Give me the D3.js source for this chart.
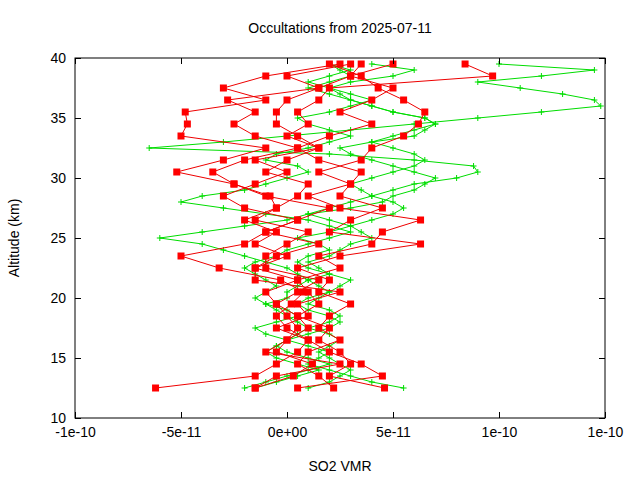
<!DOCTYPE html><html><head><meta charset="utf-8">
<script src="https://cdn.jsdelivr.net/npm/d3@7"></script>
<style>body{margin:0;background:#fff}svg{font-family:"Liberation Sans",Arial,sans-serif;font-size:14px}</style>
</head><body><svg id="c" width="640" height="480"></svg><script>
const title="Occultations from 2025-07-11";
const xLabel="SO2 VMR", yLabel="Altitude (km)";
const xTicks=[-1e-10,-5e-11,0,5e-11,1e-10,1.5e-10];
const xTickLabels=["-1e-10","-5e-11","0e+00","5e-11","1e-10","1e-10"];
const yTicks=[10,15,20,25,30,35,40];
// red profiles: altitude 12.5..39.5 step 1, values in 1e-11
const redStart=12.5, redStep=1;
const red1=[-6.2,-1.5,-0.5,0.5,1,0,-0.5,0.2,0.8,-0.3,-3.2,-5,-2,-1,0.5,2,-1,-2.5,-5.2,-3,-1,-5,-4.7,-4.8,-1,-3,-1,2.5];
const red2=[-1.5,0.3,1.2,-0.5,0,1,0.5,-0.5,0.5,1.5,-1,-1,0,1,-1.5,-0.5,-0.8,-2.5,-3.5,-2,0.5,-1.5,-2.5,-1.5,-2.8,1.5,3,3.5];
const red3=[4.6,2,3,2.5,1.5,2,0.5,1.5,1,0.5,2.5,1.5,4,4.5,6.3,2.5,1,3,3.5,1.5,0.5,2,4,2.5,4,5,3,5];
const red4=[0.5,4.5,3.5,2,1,-0.5,1,0.5,2.5,-1.5,-1.5,-0.5,1.5,-1,0.5,-2,-3,-1.5,0,-1.5,1.5,0,1,0.5,1.5,2,9.7,8.4];
const red5=[2.2,1.5,0.5,1,2.5,1.5,2,3,1.5,2,0.5,2.5,6.3,2,3,4.5,2.5,3,1.5,3.5,4,5.5,6.2,6.5,5.5,4.3,3.5,2];
const red6=[-1.5,-0.5,2.5,-1,0,0.5,0,-0.5,-1,0.5,-1.5,0,-1.5,-0.5,-2,-0.5,0.5,1,-1,0,1.5,0.5,-0.5,-0.5,0,1.5,0,3];
const redSeries=[red1,red2,red3,red4,red5,red6];
// green profiles: altitude 12.5..39.5 step 0.5
const greenStart=12.5, greenStep=0.5;
const green1=[-2,-1,0,1,2,1,0,-0.5,0,0.5,1,0.5,0,-0.5,-1,0,0,0.5,1,0.5,0,-1,-2,-3,-4,-6,-4,-2,0,1,2,3,4,5,6,8,9,8.8,6,2,-6.5,-3,0,3,6,9,12,14.8,14.5,13,11,9,12,14.5,10];
const green2=[5.5,4,3,2,1,1.5,2,1,0,1,2,2.5,2,1,0.5,1,2,1.5,1,2,1,0.5,1,2,1.5,0.5,2,3,2,1,3,4.5,5,6,6.5,7,6,5,4,3,2.5,4,6,6.5,7,6.5,5,4,3,2.5,2,3,5,6,4];
const green3=[-1.5,-0.5,0.5,1.5,0.5,-0.5,-1,-0.5,0,-1,-1.5,-0.5,0.5,0,-1,-1.5,-1,-0.5,-1,-1.5,-2,-1.5,-0.5,0,1,2,3,2,1,-1,-3,-5,-4,-2,-1,0,1,0.5,-1,-0.5,1,2,3,2,1,0.5,2,3,4,3,2,1,2,3,2];
const green4=[1,2,2.5,3,2.5,2,1.5,2,2.5,2,1,2,2.5,2,1,1.5,2,2.5,3,2,1.5,1,2,2.5,3,4,3.5,3,4,5,5.5,5,4,3.5,3,4,5,6,6.5,6,5,4,5,6,7,6.5,5,4,3,2,1,2,3,2.5,2];
const greenSeries=[green1,green2,green3,green4];

const svg=d3.select("#c");
const m={l:75,r:35,t:58,b:62};
const W=640,H=480;
const x=d3.scaleLinear().domain([-1e-10,1.5e-10]).range([m.l,W-m.r]);
const y=d3.scaleLinear().domain([10,40]).range([H-m.b,m.t]);
const g=svg.append("g");
// series
const line=d3.line().x(d=>x(d.v)).y(d=>y(d.a));
function pts(arr,s0,st){return arr.map((v,i)=>({v:v*1e-11,a:s0+i*st}));}
greenSeries.forEach(s=>{
  const p=pts(s,greenStart,greenStep);
  g.append("path").attr("d",line(p)).attr("fill","none").attr("stroke","#00dd00").attr("stroke-width",1);
  g.selectAll(null).data(p).enter().append("path")
   .attr("d",d=>`M${x(d.v)-3},${y(d.a)}h6M${x(d.v)},${y(d.a)-3}v6`).attr("stroke","#00dd00");
});
redSeries.forEach(s=>{
  const p=pts(s,redStart,redStep);
  g.append("path").attr("d",line(p)).attr("fill","none").attr("stroke","#ee0000").attr("stroke-width",1);
  g.selectAll(null).data(p).enter().append("rect")
   .attr("x",d=>x(d.v)-3.5).attr("y",d=>y(d.a)-3.5).attr("width",7).attr("height",7).attr("fill","#ff0000");
});
// frame and ticks
svg.append("rect").attr("x",m.l).attr("y",m.t).attr("width",W-m.l-m.r).attr("height",H-m.t-m.b).attr("fill","none").attr("stroke","#000");
const xb=svg.append("g").attr("transform",`translate(0,${H-m.b})`).call(d3.axisBottom(x).tickValues(xTicks).tickSize(-6).tickFormat((d,i)=>xTickLabels[i]).tickPadding(9));
const xt=svg.append("g").attr("transform",`translate(0,${m.t})`).call(d3.axisTop(x).tickValues(xTicks).tickSize(-6).tickFormat(""));
const yl=svg.append("g").attr("transform",`translate(${m.l},0)`).call(d3.axisLeft(y).tickValues(yTicks).tickSize(-6).tickPadding(9));
const yr=svg.append("g").attr("transform",`translate(${W-m.r},0)`).call(d3.axisRight(y).tickValues(yTicks).tickSize(-6).tickFormat(""));
[xb,xt,yl,yr].forEach(a=>{a.select(".domain").remove();a.selectAll("text").attr("font-size",14).attr("font-family","Liberation Sans, Arial, sans-serif").attr("fill","#000");});
svg.append("text").attr("x",340).attr("y",33).attr("text-anchor","middle").text(title);
svg.append("text").attr("x",340).attr("y",471).attr("text-anchor","middle").text(xLabel);
svg.append("text").attr("transform","translate(19,238) rotate(-90)").attr("text-anchor","middle").text(yLabel);
</script></body></html>
